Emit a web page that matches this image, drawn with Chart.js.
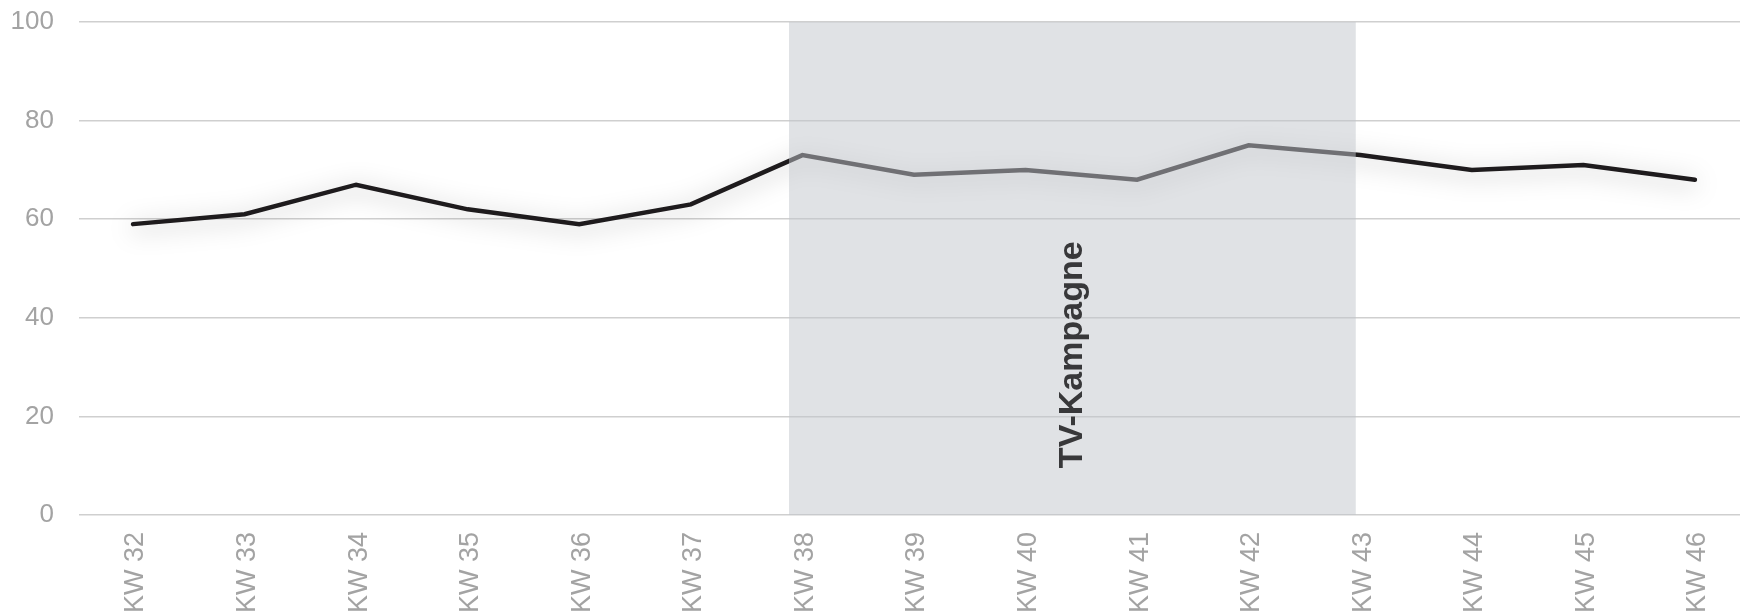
<!DOCTYPE html>
<html lang="de">
<head>
<meta charset="utf-8">
<title>Wochenverlauf KW 32–46</title>
<script src="https://cdn.jsdelivr.net/npm/chart.js@4/dist/chart.umd.min.js"></script>
<style>
  html, body { margin: 0; padding: 0; background: #ffffff; }
  #wrap { width: 1740px; height: 614px; }
</style>
</head>
<body>
<div id="wrap"><canvas id="chart" width="1740" height="614"></canvas></div>
<script>
// Kalenderwochen (x-Achse)
const weeks = ['KW 32', 'KW 33', 'KW 34', 'KW 35', 'KW 36', 'KW 37', 'KW 38', 'KW 39',
               'KW 40', 'KW 41', 'KW 42', 'KW 43', 'KW 44', 'KW 45', 'KW 46'];
// Wert je Woche
const values = [59, 61, 67, 62, 59, 63, 73, 69, 70, 68, 75, 73, 70, 71, 68];
// Skala der y-Achse
const yMin = 0;
const yMax = 100;
const yStep = 20;
// Zeitraum der TV-Kampagne (auf der Wochenachse) und Beschriftung
const campaignFrom = 5.88;
const campaignTo = 10.96;
const campaignLabel = 'TV-Kampagne';
const campaignLabelY = 32.5;

const FONT = "'Liberation Sans', Arial, Helvetica, sans-serif";

// weicher Schatten unter der Linie
const lineShadow = {
  id: 'lineShadow',
  beforeDatasetDraw(chart) {
    const ctx = chart.ctx;
    ctx.save();
    ctx.shadowColor = 'rgba(0, 0, 0, 0.34)';
    ctx.shadowBlur = 24;
    ctx.shadowOffsetX = 0;
    ctx.shadowOffsetY = 4;
  },
  afterDatasetDraw(chart) {
    chart.ctx.restore();
  }
};

// halbtransparentes Band für den Kampagnenzeitraum mit Beschriftung
const campaignBand = {
  id: 'campaignBand',
  afterDatasetsDraw(chart) {
    const { ctx, scales: { x, y } } = chart;
    const left = x.getPixelForValue(campaignFrom);
    const right = x.getPixelForValue(campaignTo);
    const top = y.getPixelForValue(yMax);
    const bottom = y.getPixelForValue(yMin);
    ctx.save();
    ctx.fillStyle = 'rgba(193, 197, 203, 0.5)';
    ctx.fillRect(left, top, right - left, bottom - top);

    ctx.translate((left + right) / 2, y.getPixelForValue(campaignLabelY));
    ctx.rotate(-Math.PI / 2);
    ctx.fillStyle = '#38383a';
    ctx.font = 'bold 34px ' + FONT;
    ctx.textAlign = 'center';
    ctx.textBaseline = 'middle';
    ctx.fillText(campaignLabel, 0, 0);
    ctx.restore();
  }
};

new Chart(document.getElementById('chart'), {
  type: 'line',
  data: {
    datasets: [{
      data: values.map((v, i) => ({ x: i, y: v })),
      borderColor: '#1e1b1d',
      borderWidth: 4.5,
      borderCapStyle: 'round',
      borderJoinStyle: 'miter',
      pointRadius: 0,
      pointHoverRadius: 0,
      tension: 0,
      fill: false
    }]
  },
  plugins: [lineShadow, campaignBand],
  options: {
    responsive: false,
    animation: false,
    events: [],
    layout: { padding: { top: 22, right: 0, bottom: 0, left: 0 } },
    plugins: {
      legend: { display: false },
      tooltip: { enabled: false },
      title: { display: false }
    },
    scales: {
      x: {
        type: 'linear',
        min: -0.484,
        max: 14.404,
        afterFit(scale) {
          scale.height = 99;
          scale.paddingLeft = 0;
          scale.paddingRight = 0;
        },
        border: { display: false },
        grid: { display: false, drawTicks: false },
        ticks: {
          stepSize: 1,
          includeBounds: false,
          autoSkip: false,
          minRotation: 90,
          maxRotation: 90,
          padding: 17,
          labelOffset: 3,
          color: '#a3a3a3',
          font: { family: FONT, size: 27 },
          callback: (v) => weeks[v] ?? ''
        }
      },
      y: {
        min: yMin,
        max: yMax,
        afterFit(scale) {
          scale.width = 79;
          scale.paddingTop = 0;
          scale.paddingBottom = 0;
        },
        border: { display: false },
        grid: { color: '#cfcfcf', lineWidth: 1.5, drawTicks: false },
        ticks: {
          stepSize: yStep,
          padding: 25,
          color: '#a3a3a3',
          font: { family: FONT, size: 26 }
        }
      }
    }
  }
});
</script>
</body>
</html>
